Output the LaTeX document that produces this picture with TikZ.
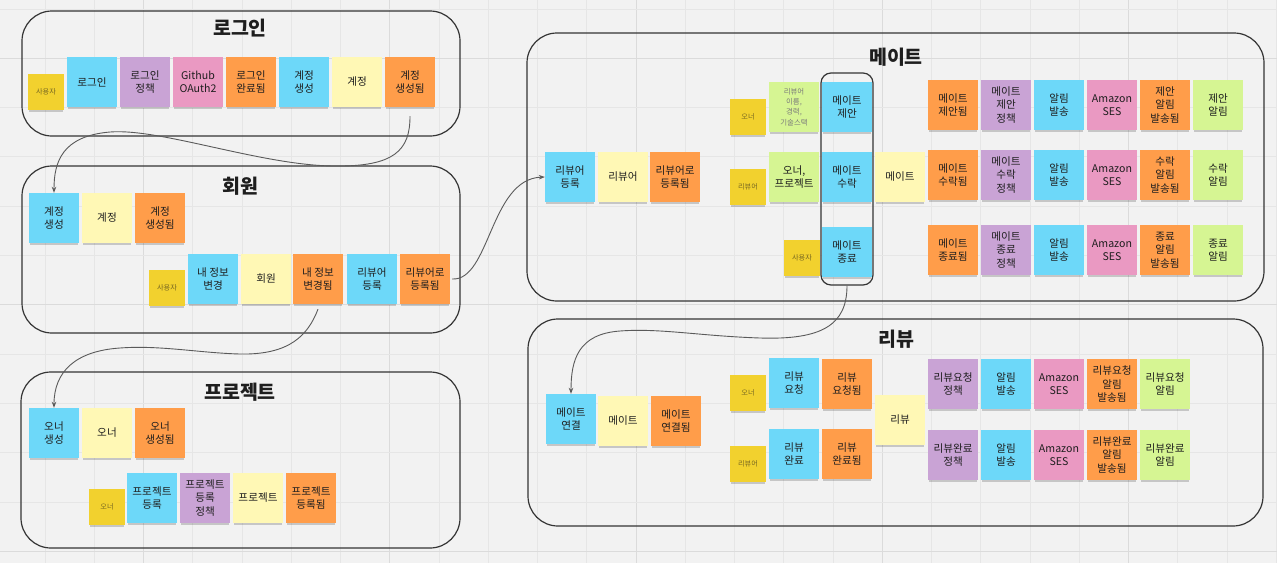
\documentclass[tikz,border=0pt]{standalone}
\usepackage{fontspec}
\setmainfont{Noto Sans CJK KR}
\usetikzlibrary{arrows.meta,shadows}
\definecolor{bgc}{HTML}{F2F2F2}
\definecolor{gridminor}{HTML}{E6E6E6}
\definecolor{gridmajor}{HTML}{DBDBDB}
\definecolor{gline}{HTML}{353535}
\definecolor{cline}{HTML}{5A5A5A}
\definecolor{txt}{HTML}{1E1E1E}
\definecolor{stxt}{HTML}{7A6A22}
\definecolor{gtxt}{HTML}{7A7A7A}
\definecolor{nblue}{HTML}{6DD8F9}
\definecolor{npurple}{HTML}{C9A3D5}
\definecolor{npink}{HTML}{EA99C2}
\definecolor{norange}{HTML}{FF9D4A}
\definecolor{nlyellow}{HTML}{FFF8B5}
\definecolor{nyellow}{HTML}{F2D12E}
\definecolor{ngreen}{HTML}{D6F593}
\begin{document}
\begin{tikzpicture}[x=1pt,y=-1pt,
  notebase/.style={inner sep=0pt, align=center,
    general shadow={fill=black, opacity=0.18, shadow yshift=-3pt, shadow scale=0.95}},
  note/.style={notebase, minimum width=50pt, minimum height=50pt, text=txt,
    font=\fontsize{10.6}{13.6}\selectfont},
  bnote/.style={note, fill=nblue},
  pnote/.style={note, fill=npurple},
  knote/.style={note, fill=npink},
  onote/.style={note, fill=norange},
  ynote/.style={note, fill=nlyellow},
  gnote/.style={note, fill=ngreen},
  gsmall/.style={gnote, text=gtxt, font=\fontsize{7.4}{10.4}\selectfont},
  snote/.style={notebase, minimum width=36pt, minimum height=36pt, fill=nyellow,
    text=stxt, font=\fontsize{7.2}{9}\selectfont},
  group/.style={draw=gline, line width=1.2pt, rounded corners=30pt},
  gtitle/.style={text=txt, font=\bfseries\fontsize{19.5}{22}\selectfont},
  innerbox/.style={draw=gline, line width=1.2pt, rounded corners=10pt, inner sep=0pt,
    minimum width=52pt, minimum height=212pt},
  conn/.style={draw=cline, line width=0.9pt, -{Stealth[length=6pt,width=4.5pt]}},
  gminor/.style={draw=gridminor, line width=1pt},
  gmajor/.style={draw=gridmajor, line width=1.2pt},
]
\useasboundingbox (0,0) rectangle (1277,563);
\fill[bgc] (0,0) rectangle (1277,563);
% grid
\foreach \i in {0,...,25}{
  \pgfmathtruncatemacro{\m}{mod(\i,5)}
  \ifnum\m=2 \draw[gmajor] ({45+49.26*\i},0) -- ++(0,563);
  \else \draw[gminor] ({45+49.26*\i},0) -- ++(0,563); \fi
}
\foreach \j in {0,...,11}{
  \pgfmathtruncatemacro{\m}{mod(\j,5)}
  \ifnum\m=1 \draw[gmajor] (0,{9+49.3*\j}) -- ++(1277,0);
  \else \draw[gminor] (0,{9+49.3*\j}) -- ++(1277,0); \fi
}
% group boxes
\draw[group] (22,11) rectangle (460,136);
\draw[group] (22,166) rectangle (460,333);
\draw[group] (21,372) rectangle (460,548);
\draw[group] (527,33) rectangle (1264,301);
\draw[group] (528,319) rectangle (1263,526);
\node[gtitle] (t1) at (240,28) {로그인};
\node[gtitle] (t2) at (240,186) {회원};
\node[gtitle] (t3) at (240,392) {프로젝트};
\node[gtitle] (t4) at (896,57) {메이트};
\node[gtitle] (t5) at (896,339) {리뷰};
% login
\node[snote] (lg0) at (46,92) {사용자};
\node[bnote] (lg1) at (92,82) {로그인};
\node[pnote] (lg2) at (145,82) {로그인\\정책};
\node[knote] (lg3) at (198,82) {Github\\OAuth2};
\node[onote] (lg4) at (251,82) {로그인\\완료됨};
\node[bnote] (lg5) at (304,82) {계정\\생성};
\node[ynote] (lg6) at (357,82) {계정};
\node[onote] (lg7) at (410,82) {계정\\생성됨};
% member
\node[bnote] (hm1) at (54,218) {계정\\생성};
\node[ynote] (hm2) at (107,218) {계정};
\node[onote] (hm3) at (160,218) {계정\\생성됨};
\node[snote] (hm4) at (167,288) {사용자};
\node[bnote] (hm5) at (213,279) {내 정보\\변경};
\node[ynote] (hm6) at (266,279) {회원};
\node[onote] (hm7) at (318,279) {내 정보\\변경됨};
\node[bnote] (hm8) at (372,279) {리뷰어\\등록};
\node[onote] (hm9) at (425,279) {리뷰어로\\등록됨};
% project
\node[bnote] (pj1) at (54,433) {오너\\생성};
\node[ynote] (pj2) at (107,433) {오너};
\node[onote] (pj3) at (160,433) {오너\\생성됨};
\node[snote] (pj4) at (107,507) {오너};
\node[bnote] (pj5) at (152,498) {프로젝트\\등록};
\node[pnote] (pj6) at (205,498) {프로젝트\\등록\\정책};
\node[ynote] (pj7) at (258,498) {프로젝트};
\node[onote] (pj8) at (311,498) {프로젝트\\등록됨};
% mate
\node[bnote] (mt1) at (570,177) {리뷰어\\등록};
\node[ynote] (mt2) at (623,177) {리뷰어};
\node[onote] (mt3) at (675,177) {리뷰어로\\등록됨};
\node[snote] (ms1) at (748,117) {오너};
\node[gsmall] (ms2) at (794,107) {리뷰어\\이름,\\경력,\\기술스택};
\node[bnote] (ms3) at (847,107) {메이트\\제안};
\node[snote] (ma1) at (748,187) {리뷰어};
\node[gnote] (ma2) at (794,177) {오너,\\프로젝트};
\node[bnote] (ma3) at (847,177) {메이트\\수락};
\node[ynote] (ma4) at (900,177) {메이트};
\node[snote] (me1) at (802,258) {사용자};
\node[bnote] (me2) at (847,252) {메이트\\종료};
\node[onote] (r11) at (953,105) {메이트\\제안됨};
\node[pnote] (r12) at (1006,105) {메이트\\제안\\정책};
\node[bnote] (r13) at (1059,105) {알림\\발송};
\node[knote] (r14) at (1112,105) {Amazon\\SES};
\node[onote] (r15) at (1165,105) {제안\\알림\\발송됨};
\node[gnote] (r16) at (1218,105) {제안\\알림};
\node[onote] (r21) at (953,175) {메이트\\수락됨};
\node[pnote] (r22) at (1006,175) {메이트\\수락\\정책};
\node[bnote] (r23) at (1059,175) {알림\\발송};
\node[knote] (r24) at (1112,175) {Amazon\\SES};
\node[onote] (r25) at (1165,175) {수락\\알림\\발송됨};
\node[gnote] (r26) at (1218,175) {수락\\알림};
\node[onote] (r31) at (953,250) {메이트\\종료됨};
\node[pnote] (r32) at (1006,250) {메이트\\종료\\정책};
\node[bnote] (r33) at (1059,250) {알림\\발송};
\node[knote] (r34) at (1112,250) {Amazon\\SES};
\node[onote] (r35) at (1165,250) {종료\\알림\\발송됨};
\node[gnote] (r36) at (1218,250) {종료\\알림};
\node[innerbox] (mbox) at (847,179) {};
% review
\node[bnote] (rv1) at (571,419) {메이트\\연결};
\node[ynote] (rv2) at (623,421) {메이트};
\node[onote] (rv3) at (676,421) {메이트\\연결됨};
\node[snote] (rq0) at (748,393) {오너};
\node[bnote] (rq1) at (794,383) {리뷰\\요청};
\node[onote] (rq2) at (847,384) {리뷰\\요청됨};
\node[snote] (rc0) at (748,464) {리뷰어};
\node[bnote] (rc1) at (794,454) {리뷰\\완료};
\node[onote] (rc2) at (847,454) {리뷰\\완료됨};
\node[ynote] (rv4) at (900,420) {리뷰};
\node[pnote] (q11) at (953,384) {리뷰요청\\정책};
\node[bnote] (q12) at (1006,384) {알림\\발송};
\node[knote] (q13) at (1059,384) {Amazon\\SES};
\node[onote] (q14) at (1112,384) {리뷰요청\\알림\\발송됨};
\node[gnote] (q15) at (1165,384) {리뷰요청\\알림};
\node[pnote] (q21) at (953,455) {리뷰완료\\정책};
\node[bnote] (q22) at (1006,455) {알림\\발송};
\node[knote] (q23) at (1059,455) {Amazon\\SES};
\node[onote] (q24) at (1112,455) {리뷰완료\\알림\\발송됨};
\node[gnote] (q25) at (1165,455) {리뷰완료\\알림};
% connectors
\coordinate (c1a) at (333,166);
\coordinate (c1b) at (110,132);
\draw[conn] ([yshift=-9pt]lg7.south) .. controls (410,150) and (395,167) .. (c1a)
  .. controls (260,165) and (160,128) .. (c1b)
  .. controls (62,136) and (54,162) .. (hm1.north);
\coordinate (c2a) at (240,354);
\coordinate (c2b) at (120,348);
\draw[conn] ([yshift=-5pt]hm7.south) .. controls (308,335) and (290,355) .. (c2a)
  .. controls (200,353) and (160,345) .. (c2b)
  .. controls (75,351) and (54,372) .. (pj1.north);
\draw[conn] ([xshift=2pt]hm9.east) .. controls (490,281) and (490,179) .. (mt1.west);
\coordinate (c4a) at (760,338);
\coordinate (c4b) at (620,331);
\draw[conn] (mbox.south) .. controls (847,325) and (822,340) .. (c4a)
  .. controls (700,336) and (660,328) .. (c4b)
  .. controls (578,334) and (571,360) .. (rv1.north);
\end{tikzpicture}
\end{document}
